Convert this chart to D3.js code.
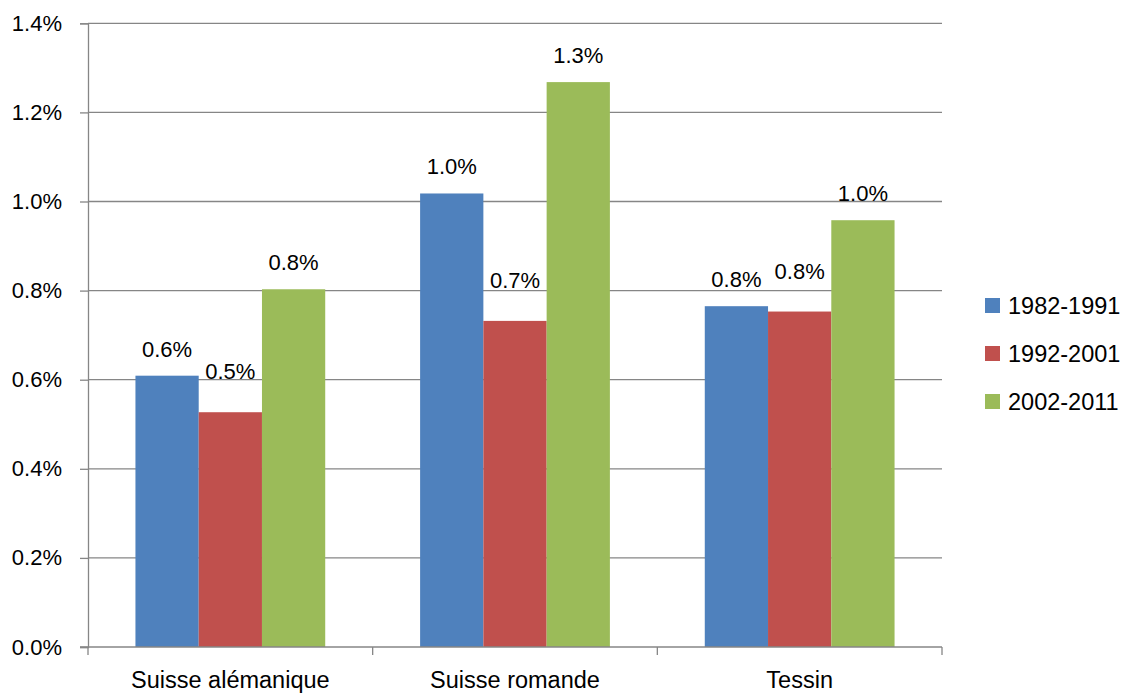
<!DOCTYPE html>
<html><head><meta charset="utf-8">
<script src="https://cdn.jsdelivr.net/npm/d3@7"></script>
<style>body{margin:0;background:#fff}svg{display:block}text{font-family:"Liberation Sans",Arial,sans-serif;fill:#000}</style>
</head><body>
<svg id="c" width="1124" height="693"></svg>
<script>
const categories = ["Suisse alémanique", "Suisse romande", "Tessin"];
const seriesNames = ["1982-1991", "1992-2001", "2002-2011"];
const s1982 = [0.00609, 0.01018, 0.00765];
const s1992 = [0.00527, 0.00732, 0.00753];
const s2002 = [0.00803, 0.01268, 0.00958];
const yTicks = [0, 0.002, 0.004, 0.006, 0.008, 0.010, 0.012, 0.014];
const colors = ["#4F81BD", "#C0504D", "#9BBB59"];
const labelLift = [19, 33, 19];

const series = [s1982, s1992, s2002];
const svg = d3.select("#c");
const L = 88, R = 942, T = 23.3, B = 647;
const fs = 22;

const y = d3.scaleLinear().domain([0, 0.014]).range([B, T]);
const x0 = d3.scaleBand().domain(categories).range([L, R]).paddingInner(0).paddingOuter(0);
const barW = x0.bandwidth() / 4.5;
const x1 = d3.scaleBand().domain(seriesNames).range([barW * 0.75, barW * 3.75]);

// gridlines
svg.append("g").selectAll("line").data(yTicks.slice(1)).join("line")
  .attr("x1", L).attr("x2", R).attr("y1", d => y(d)).attr("y2", d => y(d))
  .attr("stroke", "#868686").attr("stroke-width", 1.3);

// y axis
const yAxis = d3.axisLeft(y).tickValues(yTicks).tickSize(8).tickPadding(18)
  .tickFormat(d => d3.format(".1%")(d));
const gy = svg.append("g").attr("transform", `translate(${L},0)`).call(yAxis);
gy.select(".domain").attr("stroke", "#868686").attr("stroke-width", 1.3);
gy.selectAll(".tick line").attr("stroke", "#868686").attr("stroke-width", 1.3);
gy.selectAll(".tick text").attr("font-size", fs).attr("font-family", "Liberation Sans, Arial, sans-serif").attr("fill", "#000");

// bars
const groups = svg.append("g").selectAll("g").data(categories).join("g")
  .attr("transform", d => `translate(${x0(d)},0)`);
groups.selectAll("rect").data((c, i) => series.map((s, k) => ({k, v: s[i]}))).join("rect")
  .attr("x", d => x1(seriesNames[d.k])).attr("width", x1.bandwidth())
  .attr("y", d => y(d.v)).attr("height", d => B - y(d.v))
  .attr("fill", d => colors[d.k]);
groups.selectAll("text").data((c, i) => series.map((s, k) => ({k, v: s[i]}))).join("text")
  .attr("x", d => x1(seriesNames[d.k]) + x1.bandwidth() / 2)
  .attr("y", d => y(d.v) - labelLift[d.k])
  .attr("text-anchor", "middle").attr("font-size", fs)
  .text(d => d3.format(".1%")(d.v));

// x axis
const xAxisLine = svg.append("g");
xAxisLine.append("line").attr("x1", L - 8).attr("x2", R).attr("y1", B).attr("y2", B)
  .attr("stroke", "#868686").attr("stroke-width", 1.3);
const bounds = categories.map(c => x0(c)).concat([R]);
xAxisLine.selectAll(".xt").data(bounds).join("line").attr("class", "xt")
  .attr("x1", d => d).attr("x2", d => d).attr("y1", B).attr("y2", B + 8)
  .attr("stroke", "#868686").attr("stroke-width", 1.3);
xAxisLine.selectAll("text").data(categories).join("text")
  .attr("x", d => x0(d) + x0.bandwidth() / 2).attr("y", 688)
  .attr("text-anchor", "middle").attr("font-size", 23.5).text(d => d);

// legend
const leg = svg.append("g").selectAll("g").data(seriesNames).join("g")
  .attr("transform", (d, i) => `translate(985,${305.5 + i * 48})`);
leg.append("rect").attr("x", 0).attr("y", -7.5).attr("width", 15).attr("height", 15)
  .attr("fill", (d, i) => colors[i]);
leg.append("text").attr("x", 23).attr("y", 0).attr("dy", "0.36em")
  .attr("font-size", 23.5).text(d => d);
</script>
</body></html>
